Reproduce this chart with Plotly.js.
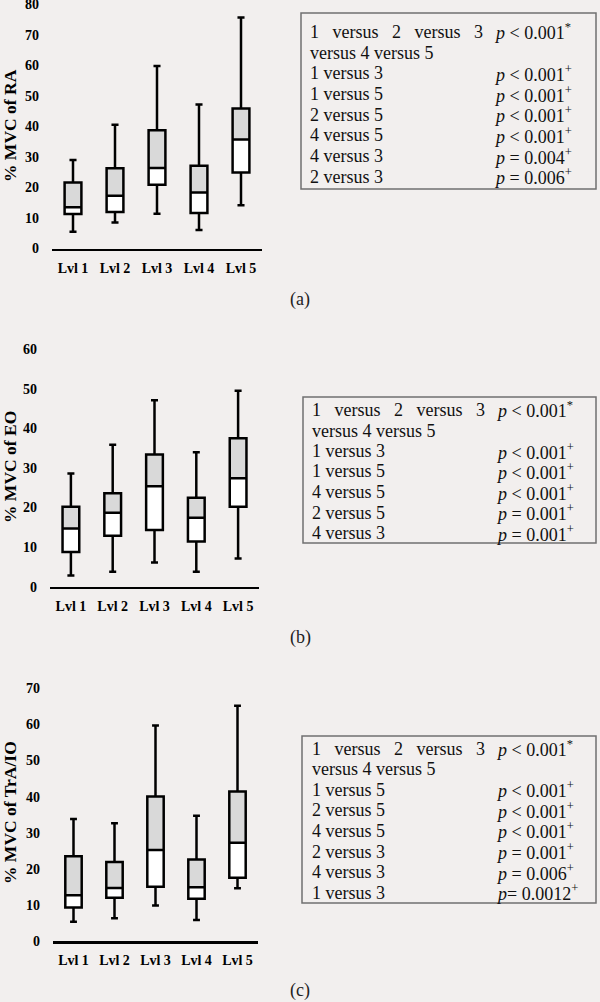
<!DOCTYPE html>
<html>
<head>
<meta charset="utf-8">
<script src="https://cdn.plot.ly/plotly-3.0.1.min.js"></script>
<style>
  body { margin: 0; background: #f2efee; }
  #chart { width: 600px; height: 1002px; }
</style>
</head>
<body>
<div id="chart"></div>
<script>
var levels = ['Lvl 1', 'Lvl 2', 'Lvl 3', 'Lvl 4', 'Lvl 5'];

// (a) % MVC of RA
var raLow  = [5.5, 8.5, 11.4, 6.1, 14.2];
var raQ1   = [11.3, 12.0, 20.9, 11.6, 24.9];
var raMed  = [13.5, 17.3, 26.4, 18.4, 35.7];
var raQ3   = [21.6, 26.3, 38.8, 27.1, 45.9];
var raHigh = [29.0, 40.6, 59.8, 47.2, 75.7];

// (b) % MVC of EO
var eoLow  = [2.8, 3.8, 6.1, 3.8, 7.1];
var eoQ1   = [8.8, 12.9, 14.3, 11.4, 20.2];
var eoMed  = [14.7, 18.7, 25.4, 17.4, 27.4];
var eoQ3   = [20.2, 23.6, 33.4, 22.5, 37.5];
var eoHigh = [28.6, 35.9, 47.1, 34.0, 49.5];

// (c) % MVC of TrA/IO
var traLow  = [5.3, 6.3, 9.8, 5.8, 14.6];
var traQ1   = [9.3, 12.0, 15.0, 11.7, 17.5];
var traMed  = [12.7, 14.7, 25.2, 14.9, 27.2];
var traQ3   = [23.5, 21.9, 40.0, 22.6, 41.4];
var traHigh = [33.8, 32.6, 59.7, 34.7, 65.2];

// comparison tables
var raPairs = ['1 versus 2 versus 3', 'versus 4 versus 5', '1 versus 3', '1 versus 5',
               '2 versus 5', '4 versus 5', '4 versus 3', '2 versus 3'];
var raP = ['<i>p</i> &lt; 0.001<sup>*</sup>', '', '<i>p</i> &lt; 0.001<sup>+</sup>', '<i>p</i> &lt; 0.001<sup>+</sup>',
           '<i>p</i> &lt; 0.001<sup>+</sup>', '<i>p</i> &lt; 0.001<sup>+</sup>', '<i>p</i> = 0.004<sup>+</sup>', '<i>p</i> = 0.006<sup>+</sup>'];

var eoPairs = ['1 versus 2 versus 3', 'versus 4 versus 5', '1 versus 3', '1 versus 5',
               '4 versus 5', '2 versus 5', '4 versus 3'];
var eoP = ['<i>p</i> &lt; 0.001<sup>*</sup>', '', '<i>p</i> &lt; 0.001<sup>+</sup>', '<i>p</i> &lt; 0.001<sup>+</sup>',
           '<i>p</i> &lt; 0.001<sup>+</sup>', '<i>p</i> = 0.001<sup>+</sup>', '<i>p</i> = 0.001<sup>+</sup>'];

var traPairs = ['1 versus 2 versus 3', 'versus 4 versus 5', '1 versus 5', '2 versus 5',
                '4 versus 5', '2 versus 3', '4 versus 3', '1 versus 3'];
var traP = ['<i>p</i> &lt; 0.001<sup>*</sup>', '', '<i>p</i> &lt; 0.001<sup>+</sup>', '<i>p</i> &lt; 0.001<sup>+</sup>',
            '<i>p</i> &lt; 0.001<sup>+</sup>', '<i>p</i> = 0.001<sup>+</sup>', '<i>p</i> = 0.006<sup>+</sup>', '<i>p</i>= 0.0012<sup>+</sup>'];

var W = 600, H = 1002;
function px(x) { return x / W; }
function py(y) { return 1 - y / H; }

var bg = '#f2efee';
var serif = '"Liberation Serif", "Times New Roman", serif';

// white lower half + grey upper half (no outline), then one outlined box on top
function boxSet(ax, low, q1, med, q3, high) {
  var common = {
    type: 'box', x: levels, xaxis: 'x' + ax, yaxis: 'y' + ax,
    boxpoints: false, width: 0.4, hoverinfo: 'skip', showlegend: false
  };
  var lowerFill = Object.assign({}, common, {
    q1: q1, median: q1, q3: med, lowerfence: q1, upperfence: med,
    fillcolor: 'white', line: { color: 'rgba(0,0,0,0)', width: 0 }, whiskerwidth: 0
  });
  var upperFill = Object.assign({}, common, {
    q1: med, median: med, q3: q3, lowerfence: med, upperfence: q3,
    fillcolor: '#d9d9d9', line: { color: 'rgba(0,0,0,0)', width: 0 }, whiskerwidth: 0
  });
  var outline = Object.assign({}, common, {
    q1: q1, median: med, q3: q3, lowerfence: low, upperfence: high,
    fillcolor: 'rgba(0,0,0,0)', line: { color: 'black', width: 2.5 }, whiskerwidth: 0.42
  });
  return [lowerFill, upperFill, outline];
}

var data = [].concat(
  boxSet('', raLow, raQ1, raMed, raQ3, raHigh),
  boxSet('2', eoLow, eoQ1, eoMed, eoQ3, eoHigh),
  boxSet('3', traLow, traQ1, traMed, traQ3, traHigh)
);

var tickFont = { family: serif, size: 14, color: 'black', weight: 'bold' };

function xAxis(x0, x1, anchor) {
  return {
    domain: [px(x0), px(x1)], anchor: anchor, range: [-0.5, 4.5],
    showline: true, linecolor: 'black', linewidth: 2.5, showgrid: false, zeroline: false,
    ticks: '', tickfont: tickFont, ticklabelstandoff: 5, fixedrange: true
  };
}
// yTop is the pixel row of maxV; the range gets a little headroom so the top tick is kept
function yAxis(yTop, yBot, maxV, anchor) {
  var pad = 1;
  var unit = (yBot - yTop) / maxV;
  return {
    domain: [py(yBot), py(yTop - pad * unit)], anchor: anchor, range: [0, maxV + pad], dtick: 10,
    showline: false, showgrid: false, zeroline: false, ticklabeloverflow: 'allow',
    ticks: '', tickfont: tickFont, ticklabelstandoff: 12, fixedrange: true
  };
}

var shapes = [];
var annotations = [];

function table(pairs, pvals, box, leftX, pX, rowY, rowStep) {
  shapes.push({
    type: 'rect', xref: 'paper', yref: 'paper',
    x0: px(box[0]), x1: px(box[1]), y0: py(box[3]), y1: py(box[2]),
    line: { color: '#707070', width: 1.5 }, fillcolor: 'rgba(0,0,0,0)'
  });
  pairs.forEach(function (t, i) {
    var y = rowY + i * rowStep;
    var txt = i === 0 ? t.split(' ').join('\u00a0\u00a0\u00a0') : t;
    annotations.push({
      xref: 'paper', yref: 'paper', x: px(leftX), y: py(y),
      xanchor: 'left', yanchor: 'middle', showarrow: false, text: txt,
      font: { family: serif, size: 18, color: '#111' }
    });
    if (pvals[i]) {
      annotations.push({
        xref: 'paper', yref: 'paper', x: px(pX), y: py(y),
        xanchor: 'left', yanchor: 'middle', showarrow: false, text: pvals[i],
        font: { family: serif, size: 18, color: '#111' }
      });
    }
  });
}

table(raPairs, raP, [301, 596, 13, 189], 308, 492, 32, 20.7);
table(eoPairs, eoP, [303, 596, 397, 543], 310, 494, 410, 20.5);
table(traPairs, traP, [302, 596, 736, 903], 310, 494, 748.5, 20.6);

function yTitle(text, x, y) {
  annotations.push({
    xref: 'paper', yref: 'paper', x: px(x), y: py(y), xanchor: 'center', yanchor: 'middle',
    textangle: -90, showarrow: false, text: text,
    font: { family: serif, size: 17.5, color: 'black', weight: 'bold' }
  });
}
yTitle('% MVC of RA', 10, 126);
yTitle('% MVC of EO', 10, 467);
yTitle('% MVC of TrA/IO', 10, 813);

function caption(text, y) {
  annotations.push({
    xref: 'paper', yref: 'paper', x: px(300), y: py(y), xanchor: 'center', yanchor: 'middle',
    showarrow: false, text: text, font: { family: serif, size: 18, color: '#222' }
  });
}
caption('(a)', 300);
caption('(b)', 637);
caption('(c)', 990);

var layout = {
  width: W, height: H,
  margin: { l: 0, r: 0, t: 0, b: 0 },
  paper_bgcolor: bg, plot_bgcolor: bg,
  boxmode: 'overlay', showlegend: false,
  xaxis: xAxis(52, 262, 'y'),
  yaxis: yAxis(4.5, 248.5, 80, 'x'),
  xaxis2: xAxis(50, 259, 'y2'),
  yaxis2: yAxis(349.3, 586.7, 60, 'x2'),
  xaxis3: xAxis(53, 258, 'y3'),
  yaxis3: yAxis(688.3, 941, 70, 'x3'),
  shapes: shapes,
  annotations: annotations
};

Plotly.newPlot('chart', data, layout, { staticPlot: true });
</script>
</body>
</html>
